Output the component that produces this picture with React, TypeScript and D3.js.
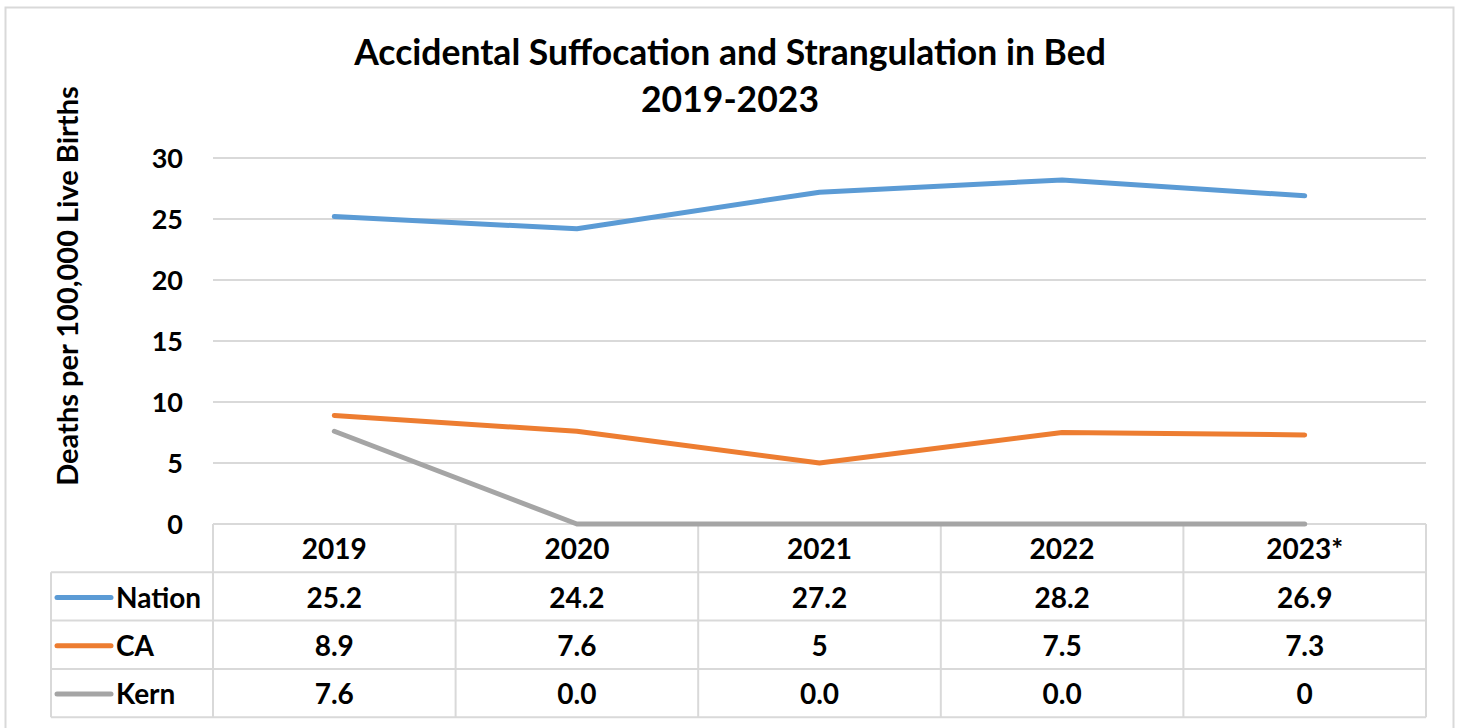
import { useEffect, useRef } from 'react';
import * as d3 from 'd3';

const years = ['2019', '2020', '2021', '2022', '2023*'];
const seriesNames = ['Nation', 'CA', 'Kern'];
const nationValues = [25.2, 24.2, 27.2, 28.2, 26.9];
const caValues = [8.9, 7.6, 5, 7.5, 7.3];
const kernValues = [7.6, 0, 0, 0, 0];
// table labels as printed in the source
const nationLabels = ['25.2', '24.2', '27.2', '28.2', '26.9'];
const caLabels = ['8.9', '7.6', '5', '7.5', '7.3'];
const kernLabels = ['7.6', '0.0', '0.0', '0.0', '0'];
const yTicks = [0, 5, 10, 15, 20, 25, 30];
const colors = ['#5B9BD5', '#ED7D31', '#A5A5A5'];

const FONT = 'Lato, "Open Sans", sans-serif';
const GRID = '#D9D9D9';

const W = 1460;
const H = 728;
const plot = { left: 213, right: 1426, top: 158, bottom: 524 };
const rowH = 48.3;
const legendLeft = 51;

const App = () => {
  const ref = useRef<SVGSVGElement>(null);

  useEffect(() => {
    const svg = d3.select(ref.current);
    svg.selectAll('*').remove();

    const x = d3.scaleBand().domain(years).range([plot.left, plot.right]);
    const y = d3.scaleLinear().domain([0, 30]).range([plot.bottom, plot.top]);

    // chart frame
    svg
      .append('rect')
      .attr('x', 5.5)
      .attr('y', 7.5)
      .attr('width', 1448)
      .attr('height', 740)
      .attr('fill', 'white')
      .attr('stroke', GRID)
      .attr('stroke-width', 2);

    // title
    const title = svg
      .append('text')
      .attr('x', 730)
      .attr('text-anchor', 'middle')
      .style('font-family', FONT)
      .style('font-weight', 700)
      .style('font-size', '35.5px')
      .attr('fill', '#000');
    title.append('tspan').attr('x', 730).attr('y', 65).text('Accidental Suffocation and Strangulation in Bed');
    title.append('tspan').attr('x', 730).attr('y', 112).text('2019-2023');

    // y axis title
    svg
      .append('text')
      .attr('transform', 'translate(78,286) rotate(-90)')
      .attr('text-anchor', 'middle')
      .style('font-family', FONT)
      .style('font-weight', 700)
      .style('font-size', '29px')
      .text('Deaths per 100,000 Live Births');

    // gridlines
    svg
      .append('g')
      .selectAll('line')
      .data(yTicks)
      .join('line')
      .attr('x1', plot.left)
      .attr('x2', plot.right)
      .attr('y1', (d) => y(d))
      .attr('y2', (d) => y(d))
      .attr('stroke', GRID)
      .attr('stroke-width', 2);

    // tick labels
    svg
      .append('g')
      .selectAll('text')
      .data(yTicks)
      .join('text')
      .attr('x', 183)
      .attr('y', (d) => y(d))
      .attr('dy', '0.36em')
      .attr('text-anchor', 'end')
      .style('font-family', FONT)
      .style('font-weight', 700)
      .style('font-size', '27px')
      .text((d) => d);

    // data table grid
    const table = svg.append('g').attr('stroke', GRID).attr('stroke-width', 2);
    const rowsTop = plot.bottom + rowH;
    const tableBottom = plot.bottom + rowH * 4;
    [0, 1, 2, 3].forEach((i) => {
      const yy = rowsTop + rowH * i;
      table.append('line').attr('x1', legendLeft).attr('x2', plot.right).attr('y1', yy).attr('y2', yy);
    });
    const colEdges = years.map((d) => x(d) as number).concat([plot.right]);
    colEdges.forEach((cx) => {
      table.append('line').attr('x1', cx).attr('x2', cx).attr('y1', plot.bottom).attr('y2', tableBottom);
    });
    table.append('line').attr('x1', legendLeft).attr('x2', legendLeft).attr('y1', rowsTop).attr('y2', tableBottom);

    const cellText = (sel: any) =>
      sel
        .attr('text-anchor', 'middle')
        .attr('dy', '0.36em')
        .style('font-family', FONT)
        .style('font-weight', 700)
        .style('font-size', '28px')
        .attr('fill', '#000');

    // header
    svg
      .append('g')
      .selectAll('text')
      .data(years)
      .join('text')
      .attr('x', (d) => (x(d) as number) + x.bandwidth() / 2)
      .attr('y', plot.bottom + rowH / 2 + 1)
      .call(cellText)
      .text((d) => d);

    const labelRows = [nationLabels, caLabels, kernLabels];
    labelRows.forEach((labels, r) => {
      const cy = rowsTop + rowH * r + rowH / 2 + 1;
      svg
        .append('g')
        .selectAll('text')
        .data(labels)
        .join('text')
        .attr('x', (_d, i) => (x(years[i]) as number) + x.bandwidth() / 2)
        .attr('y', cy)
        .call(cellText)
        .text((d) => d);

      // legend key
      svg
        .append('line')
        .attr('x1', 57)
        .attr('x2', 111)
        .attr('y1', cy)
        .attr('y2', cy)
        .attr('stroke', colors[r])
        .attr('stroke-width', 5)
        .attr('stroke-linecap', 'round');
      svg
        .append('text')
        .attr('x', 116)
        .attr('y', cy)
        .attr('dy', '0.36em')
        .style('font-family', FONT)
        .style('font-weight', 700)
        .style('font-size', '28px')
        .text(seriesNames[r]);
    });

    // series lines
    const line = d3
      .line<number>()
      .x((_d, i) => (x(years[i]) as number) + x.bandwidth() / 2)
      .y((d) => y(d));

    [nationValues, caValues, kernValues].forEach((vals, i) => {
      svg
        .append('path')
        .datum(vals)
        .attr('d', line)
        .attr('fill', 'none')
        .attr('stroke', colors[i])
        .attr('stroke-width', 5)
        .attr('stroke-linecap', 'round')
        .attr('stroke-linejoin', 'round');
    });
  }, []);

  return (
    <svg
      ref={ref}
      width={W}
      height={H}
      style={{ position: 'absolute', left: 0, top: 0, background: 'white' }}
    />
  );
};

export default App;
